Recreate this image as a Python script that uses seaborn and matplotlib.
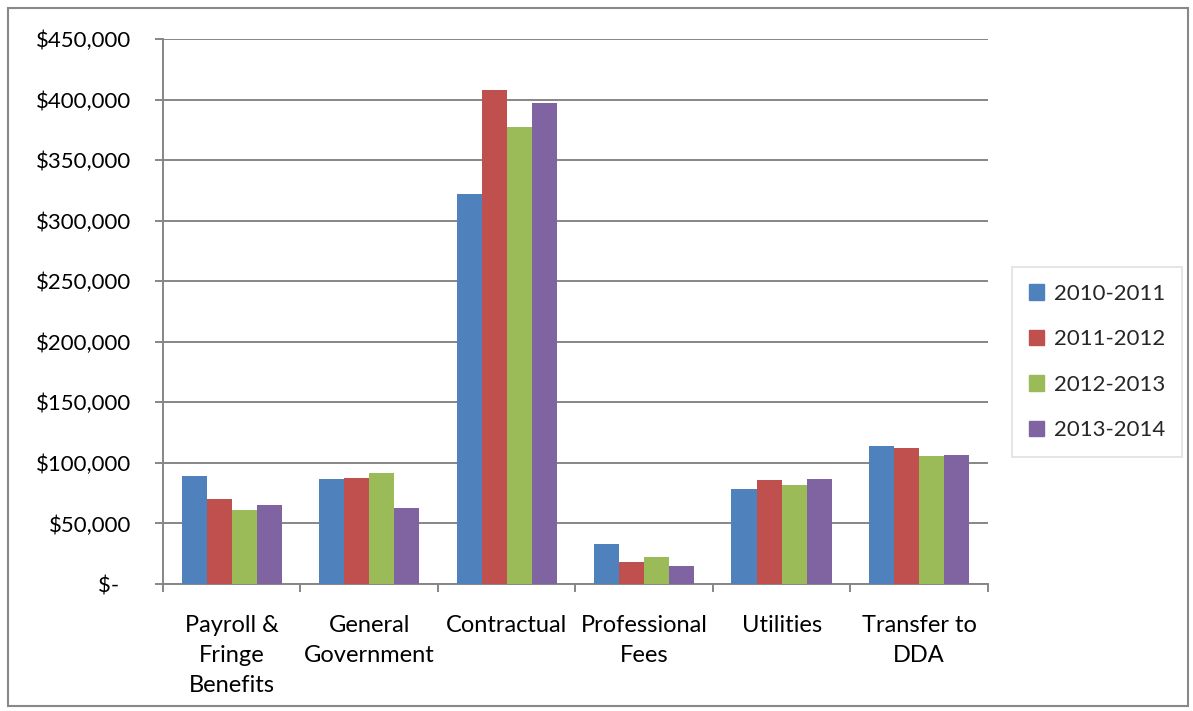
import matplotlib
matplotlib.use("Agg")
import matplotlib.pyplot as plt
import seaborn as sns
import pandas as pd
from matplotlib.patches import Rectangle

categories = ["Payroll &\nFringe\nBenefits", "General\nGovernment", "Contractual",
              "Professional\nFees", "Utilities", "Transfer to\nDDA"]
years = ["2010-2011", "2011-2012", "2012-2013", "2013-2014"]
fy_2010_2011 = [89000, 86500, 322000, 33000, 78300, 113700]
fy_2011_2012 = [70000, 87300, 407700, 18100, 85700, 112000]
fy_2012_2013 = [61000, 91400, 377400, 22200, 81500, 105400]
fy_2013_2014 = [65100, 62600, 397000, 14800, 86500, 106300]
yticks = [0, 50000, 100000, 150000, 200000, 250000, 300000, 350000, 400000, 450000]
ytick_labels = ["$-  ", "$50,000", "$100,000", "$150,000", "$200,000",
                "$250,000", "$300,000", "$350,000", "$400,000", "$450,000"]
colors = ["#4F81BD", "#C0504D", "#9BBB59", "#8064A2"]

series = [fy_2010_2011, fy_2011_2012, fy_2012_2013, fy_2013_2014]
rows = []
for yr, vals in zip(years, series):
    for cat, v in zip(categories, vals):
        rows.append({"category": cat, "year": yr, "amount": v})
df = pd.DataFrame(rows)

sns.set_theme(style="white")
plt.rcParams["font.family"] = ["Lato", "DejaVu Sans"]

fig = plt.figure(figsize=(11.93, 7.11), dpi=100)
ax = fig.add_axes([0.1366, 0.1786, 0.6915, 0.7665])

sns.barplot(data=df, x="category", y="amount", hue="year", order=categories,
            hue_order=years, palette=colors, width=0.73, gap=0, saturation=1,
            edgecolor="none", linewidth=0, ax=ax, legend=True, zorder=3)

ax.set_ylim(0, 450000)
ax.set_xlim(-0.5, len(categories) - 0.5)
ax.set_yticks(yticks)
ax.set_yticklabels(ytick_labels, fontsize=16, color="black")
ax.set_xticks(range(len(categories)))
ax.set_xticklabels(categories, fontsize=17, color="black", linespacing=1.55, va="top")
ax.set_xlabel("")
ax.set_ylabel("")

# horizontal gridlines
ax.yaxis.grid(True, color="#868686", linewidth=1.4, zorder=0)
ax.xaxis.grid(False)

for s in ["top", "right"]:
    ax.spines[s].set_visible(False)
for s in ["left", "bottom"]:
    ax.spines[s].set_color("#868686")
    ax.spines[s].set_linewidth(1.4)

ax.tick_params(axis="y", which="both", left=True, length=6, width=1.4,
               color="#868686", pad=17)
ax.tick_params(axis="x", which="major", bottom=False, pad=16)

# boundary ticks between categories on the x axis
ax.set_xticks([i - 0.5 for i in range(len(categories) + 1)], minor=True)
ax.tick_params(axis="x", which="minor", bottom=True, length=6, width=1.4,
               color="#868686")

ax.get_legend().remove()
handles = [Rectangle((0, 0), 1, 1, color=c) for c in colors]
leg = fig.legend(handles, years, loc="center", bbox_to_anchor=(0.9195, 0.491),
                 fontsize=16, frameon=True, fancybox=False, labelspacing=1.15,
                 handlelength=0.7, handleheight=0.7, handletextpad=0.45,
                 borderpad=0.75, borderaxespad=0)
leg.get_frame().set_edgecolor("#D9D9D9")
leg.get_frame().set_linewidth(1.2)

# outer chart border
fig.patches.append(Rectangle((8 / 1193, 5 / 711), 1180 / 1193, 698 / 711,
                             transform=fig.transFigure, fill=False,
                             edgecolor="#888888", linewidth=1.5))

fig.savefig("out.png", dpi=100)
